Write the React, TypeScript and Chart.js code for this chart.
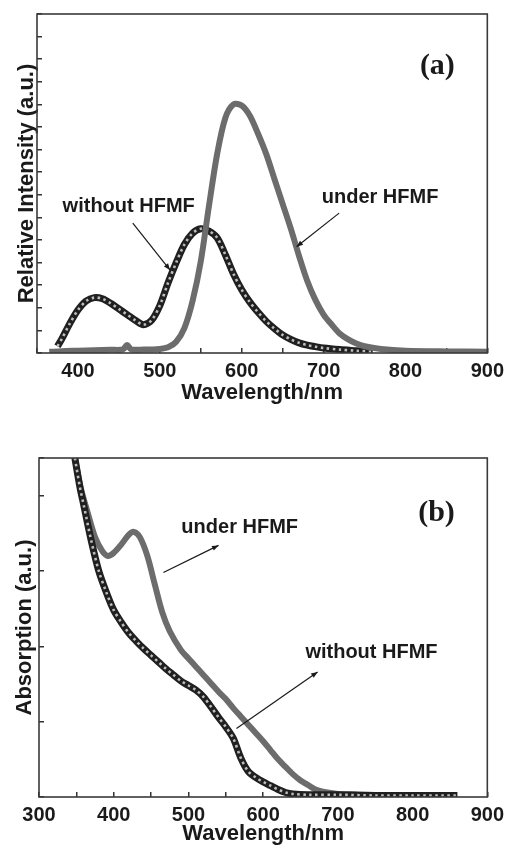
import React, { useEffect, useRef } from "react";
import { Chart, registerables } from "chart.js";

Chart.register(...registerables);

// ---------- Panel (a): photoluminescence ----------
const topWithoutNm = [375, 380, 390, 400, 410, 420, 430, 440, 450, 460, 470, 480, 490, 500, 510, 520, 530, 540, 550, 560, 570, 580, 590, 600, 610, 620, 630, 640, 650, 660, 670, 680, 690, 700, 720, 740, 760];
const topWithoutVal = [0.3, 0.6, 1.3, 1.9, 2.3, 2.45, 2.4, 2.2, 1.95, 1.7, 1.45, 1.25, 1.45, 2.1, 3.1, 4.0, 4.8, 5.3, 5.5, 5.4, 5.1, 4.35, 3.5, 2.8, 2.25, 1.8, 1.4, 1.08, 0.8, 0.6, 0.45, 0.35, 0.28, 0.22, 0.15, 0.1, 0.05];
const topUnderNm = [365, 380, 400, 420, 440, 455, 460, 465, 480, 500, 510, 520, 530, 540, 550, 560, 570, 580, 590, 600, 610, 620, 630, 640, 650, 660, 670, 680, 690, 700, 710, 720, 730, 740, 750, 770, 800, 850, 900];
const topUnderVal = [0.05, 0.08, 0.1, 0.12, 0.14, 0.16, 0.35, 0.16, 0.15, 0.18, 0.25, 0.5, 1.1, 2.3, 4.05, 6.5, 8.8, 10.4, 11.0, 10.95, 10.5, 9.7, 8.8, 7.7, 6.6, 5.5, 4.3, 3.2, 2.35, 1.7, 1.25, 0.85, 0.6, 0.42, 0.3, 0.18, 0.1, 0.07, 0.06];
const topXLabels = [400, 500, 600, 700, 800, 900];

// ---------- Panel (b): absorption ----------
const botWithoutNm = [348, 355, 360, 370, 380, 390, 400, 410, 420, 430, 440, 450, 460, 470, 480, 490, 500, 510, 520, 530, 540, 550, 560, 570, 580, 590, 600, 610, 620, 630, 640, 660, 700, 750, 800, 860];
const botWithoutVal = [4.5, 4.1, 3.87, 3.4, 3.0, 2.72, 2.48, 2.32, 2.18, 2.07, 1.97, 1.88, 1.79, 1.7, 1.62, 1.54, 1.48, 1.42, 1.33, 1.2, 1.06, 0.93, 0.78, 0.52, 0.34, 0.26, 0.2, 0.15, 0.1, 0.06, 0.04, 0.03, 0.03, 0.02, 0.02, 0.02];
const botUnderNm = [348, 356, 365, 375, 385, 392, 400, 410, 420, 427, 435, 445, 455, 465, 475, 490, 500, 510, 520, 530, 540, 550, 560, 570, 580, 590, 600, 610, 620, 630, 640, 650, 660, 670, 680, 700, 725];
const botUnderVal = [4.5, 4.1, 3.78, 3.45, 3.26, 3.2, 3.24, 3.35, 3.48, 3.52, 3.45, 3.2, 2.82, 2.45, 2.2, 1.95, 1.84, 1.73, 1.62, 1.51, 1.4, 1.3, 1.18, 1.07, 0.96, 0.85, 0.74, 0.62, 0.5, 0.4, 0.3, 0.22, 0.16, 0.1, 0.07, 0.04, 0.03];
const botXLabels = [300, 400, 500, 600, 700, 800, 900];

// annotations (data units)
const topNotes = [
  { text: "without HFMF", x: 462, y: 6.5 },
  { text: "under HFMF", x: 769, y: 6.9 },
];
const topArrows = [
  { x1: 467, y1: 5.75, x2: 512.5, y2: 3.67 },
  { x1: 719, y1: 6.19, x2: 667, y2: 4.7 },
];
const topPanel = { text: "(a)", x: 839, y: 12.7 };

const botNotes = [
  { text: "under HFMF", x: 568.6, y: 3.58 },
  { text: "without HFMF", x: 745, y: 1.92 },
];
const botArrows = [
  { x1: 466.5, y1: 2.98, x2: 540.3, y2: 3.34 },
  { x1: 564.3, y1: 0.91, x2: 672.9, y2: 1.66 },
];
const botPanel = { text: "(b)", x: 832, y: 3.77 };

const SANS = '"Liberation Sans", Arial, Helvetica, sans-serif';
const SERIF = '"Liberation Serif", "Times New Roman", serif';
const INK = "#1a1a1a";
const GRAY = "#6c6c6c";

const zip = (xs: number[], ys: number[]) => xs.map((x, i) => ({ x, y: ys[i] }));

function seriesSets(withoutPts: any[], underPts: any[], grayOnTop: boolean) {
  const grayOrder = grayOnTop ? 0 : 2;
  const blackBase = grayOnTop ? 2 : 1;
  const blackDash = grayOnTop ? 1 : 0;
  return [
    {
      label: "without HFMF",
      data: withoutPts,
      borderColor: "#202020",
      borderWidth: 7,
      pointRadius: 0,
      tension: 0.3,
      order: blackBase,
    },
    {
      label: "without HFMF (rings)",
      data: withoutPts,
      borderColor: "#bdbdbd",
      borderWidth: 2.6,
      borderDash: [2.5, 3.5],
      pointRadius: 0,
      tension: 0.3,
      order: blackDash,
    },
    {
      label: "under HFMF",
      data: underPts,
      borderColor: GRAY,
      borderWidth: 6,
      pointRadius: 0,
      tension: 0.3,
      order: grayOrder,
    },
  ];
}

const framePlugin = {
  id: "frame",
  afterDatasetsDraw(chart: any) {
    const { ctx, chartArea: a } = chart;
    ctx.save();
    ctx.strokeStyle = "#3a3a3a";
    ctx.lineWidth = 1.6;
    ctx.strokeRect(a.left, a.top, a.right - a.left, a.bottom - a.top);
    ctx.restore();
  },
};

function notesPlugin(notes: any[], arrows: any[], panel: any) {
  return {
    id: "notes",
    afterDraw(chart: any) {
      const { ctx } = chart;
      const xs = chart.scales.x;
      const ys = chart.scales.y;
      ctx.save();
      ctx.fillStyle = INK;
      ctx.textAlign = "center";
      ctx.textBaseline = "middle";
      ctx.font = `bold 20px ${SANS}`;
      notes.forEach((n) => {
        ctx.fillText(n.text, xs.getPixelForValue(n.x), ys.getPixelForValue(n.y));
      });
      ctx.strokeStyle = INK;
      ctx.lineWidth = 1.2;
      arrows.forEach((a) => {
        const x1 = xs.getPixelForValue(a.x1);
        const y1 = ys.getPixelForValue(a.y1);
        const x2 = xs.getPixelForValue(a.x2);
        const y2 = ys.getPixelForValue(a.y2);
        ctx.beginPath();
        ctx.moveTo(x1, y1);
        ctx.lineTo(x2, y2);
        ctx.stroke();
        const ang = Math.atan2(y2 - y1, x2 - x1);
        const L = 7;
        const w = 0.38;
        ctx.beginPath();
        ctx.moveTo(x2, y2);
        ctx.lineTo(x2 - L * Math.cos(ang - w), y2 - L * Math.sin(ang - w));
        ctx.lineTo(x2 - L * Math.cos(ang + w), y2 - L * Math.sin(ang + w));
        ctx.closePath();
        ctx.fill();
      });
      ctx.font = `bold 30px ${SERIF}`;
      ctx.fillText(panel.text, xs.getPixelForValue(panel.x), ys.getPixelForValue(panel.y));
      ctx.restore();
    },
  };
}

function makeChart(canvas: HTMLCanvasElement, o: any) {
  const tickGrid = { drawOnChartArea: false, drawTicks: true, tickLength: -5, color: "#333", lineWidth: 1.5 };
  return new Chart(canvas, {
    type: "line",
    data: { datasets: o.datasets },
    options: {
      animation: false,
      responsive: false,
      layout: { padding: o.pad },
      plugins: { legend: { display: false }, tooltip: { enabled: false } },
      elements: { point: { radius: 0 } },
      scales: {
        x: {
          type: "linear",
          min: o.xMin,
          max: o.xMax,
          ticks: {
            stepSize: 50,
            autoSkip: false,
            maxRotation: 0,
            padding: o.xTickPad,
            color: INK,
            font: { family: SANS, size: 20, weight: "bold" },
            callback: (v: any) => (o.xLabels.includes(v) ? String(v) : ""),
          },
          grid: tickGrid,
          border: { display: false },
          title: {
            display: true,
            text: "Wavelength/nm",
            color: INK,
            font: { family: SANS, size: 22, weight: "bold", lineHeight: 1.2 },
            padding: { top: 0, bottom: o.xTitlePad },
          },
          afterFit: (s: any) => {
            s.height = o.xHeight;
          },
        },
        y: {
          type: "linear",
          min: 0,
          max: o.yMax,
          ticks: { stepSize: 1, callback: () => "", padding: 0 },
          grid: tickGrid,
          border: { display: false },
          title: {
            display: true,
            text: o.yTitle,
            color: INK,
            font: { family: SANS, size: 22, weight: "bold", lineHeight: 1.2 },
            padding: { top: o.yTitlePad, bottom: 0 },
          },
          afterFit: (s: any) => {
            s.width = o.yWidth;
          },
        },
      },
    } as any,
    plugins: [framePlugin, notesPlugin(o.notes, o.arrows, o.panel)],
  } as any);
}

export default function App() {
  const topRef = useRef<HTMLCanvasElement>(null);
  const botRef = useRef<HTMLCanvasElement>(null);

  useEffect(() => {
    const top = makeChart(topRef.current!, {
      datasets: seriesSets(zip(topWithoutNm, topWithoutVal), zip(topUnderNm, topUnderVal), true),
      xMin: 350,
      xMax: 900,
      yMax: 15,
      xLabels: topXLabels,
      yTitle: "Relative Intensity (a.u.)",
      pad: { top: 14, right: 16, left: 0, bottom: 0 },
      yWidth: 37,
      xHeight: 57,
      xTickPad: 11,
      xTitlePad: 4,
      yTitlePad: 14,
      notes: topNotes,
      arrows: topArrows,
      panel: topPanel,
    });
    const bot = makeChart(botRef.current!, {
      datasets: seriesSets(zip(botWithoutNm, botWithoutVal), zip(botUnderNm, botUnderVal), false),
      xMin: 300,
      xMax: 900,
      yMax: 4.5,
      xLabels: botXLabels,
      yTitle: "Absorption (a.u.)",
      pad: { top: 48, right: 16, left: 0, bottom: 0 },
      yWidth: 39,
      xHeight: 50,
      xTickPad: 11,
      xTitlePad: 0,
      yTitlePad: 12,
      notes: botNotes,
      arrows: botArrows,
      panel: botPanel,
    });
    return () => {
      top.destroy();
      bot.destroy();
    };
  }, []);

  return (
    <div style={{ position: "absolute", left: 0, top: 0, width: 515, height: 847, background: "#fff" }}>
      <canvas ref={topRef} width={515} height={410} style={{ position: "absolute", left: 0, top: 0, display: "block" }} />
      <canvas ref={botRef} width={515} height={437} style={{ position: "absolute", left: 0, top: 410, display: "block" }} />
    </div>
  );
}
